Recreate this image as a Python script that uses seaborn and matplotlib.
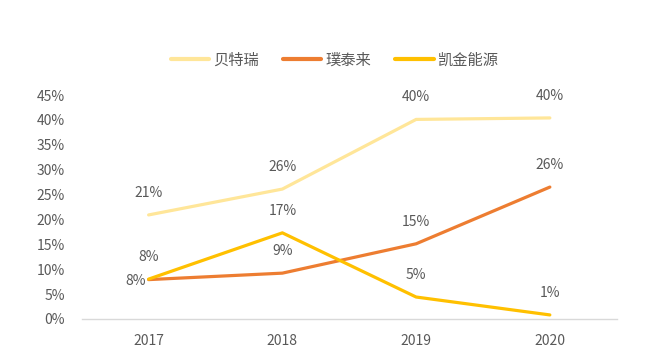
import matplotlib
matplotlib.use('Agg')
import matplotlib.pyplot as plt
import numpy as np
import pandas as pd
import seaborn as sns
from matplotlib.ticker import PercentFormatter

years = ['2017', '2018', '2019', '2020']
btr = [0.209, 0.261, 0.401, 0.404]       # 贝特瑞
ptl = [0.079, 0.092, 0.151, 0.265]       # 璞泰来
kj = [0.080, 0.173, 0.044, 0.008]        # 凯金能源
labels_btr = ['21%', '26%', '40%', '40%']
labels_ptl = ['8%', '9%', '15%', '26%']
labels_kj = ['8%', '17%', '5%', '1%']

names = ['贝特瑞', '璞泰来', '凯金能源']
colors = ['#FFE699', '#ED7D31', '#FFC000']

sns.set_theme(style='white')
plt.rcParams['font.family'] = ['Noto Sans CJK SC', 'DejaVu Sans']

df = pd.DataFrame({
    'year': years * 3,
    'value': btr + ptl + kj,
    'company': [n for n in names for _ in years],
})

fig, ax = plt.subplots(figsize=(6.54, 3.52), dpi=100)
fig.subplots_adjust(left=0.125, right=0.943, bottom=0.094, top=0.730)

sns.lineplot(data=df, x='year', y='value', hue='company', palette=colors,
             linewidth=2.3, ax=ax, sort=False)

text_color = '#595959'
all_labels = [labels_btr, labels_ptl, labels_kj]
all_vals = [btr, ptl, kj]
for s, (vals, labs) in enumerate(zip(all_vals, all_labels)):
    for i, (v, lab) in enumerate(zip(vals, labs)):
        if s == 1 and i == 0:
            ax.annotate(lab, (i, v), xytext=(-2, -1), textcoords='offset points',
                        ha='right', va='center', fontsize=10, color=text_color)
        else:
            ax.annotate(lab, (i, v), xytext=(0, 16), textcoords='offset points',
                        ha='center', va='center', fontsize=10, color=text_color)

ax.set_xlim(-0.5, 3.5)
ax.set_ylim(0, 0.45)
ax.set_yticks(np.arange(0, 0.46, 0.05))
ax.yaxis.set_major_formatter(PercentFormatter(1.0, decimals=0))
ax.set_xlabel('')
ax.set_ylabel('')
ax.tick_params(axis='both', length=0, labelsize=10, colors=text_color)
ax.tick_params(axis='x', pad=11)
ax.tick_params(axis='y', pad=12)

for side in ['top', 'right', 'left']:
    ax.spines[side].set_visible(False)
ax.spines['bottom'].set_color('#D9D9D9')
ax.spines['bottom'].set_linewidth(1)

handles, lbls = ax.get_legend_handles_labels()
leg = ax.legend(handles, lbls, loc='center', bbox_to_anchor=(0.473, 1.156), ncol=3,
                frameon=False, fontsize=11, handlelength=2.5, columnspacing=1.6,
                handletextpad=0.25)
for t in leg.get_texts():
    t.set_color(text_color)
for line in leg.get_lines():
    line.set_linewidth(3)

fig.savefig('out.png', dpi=100)
